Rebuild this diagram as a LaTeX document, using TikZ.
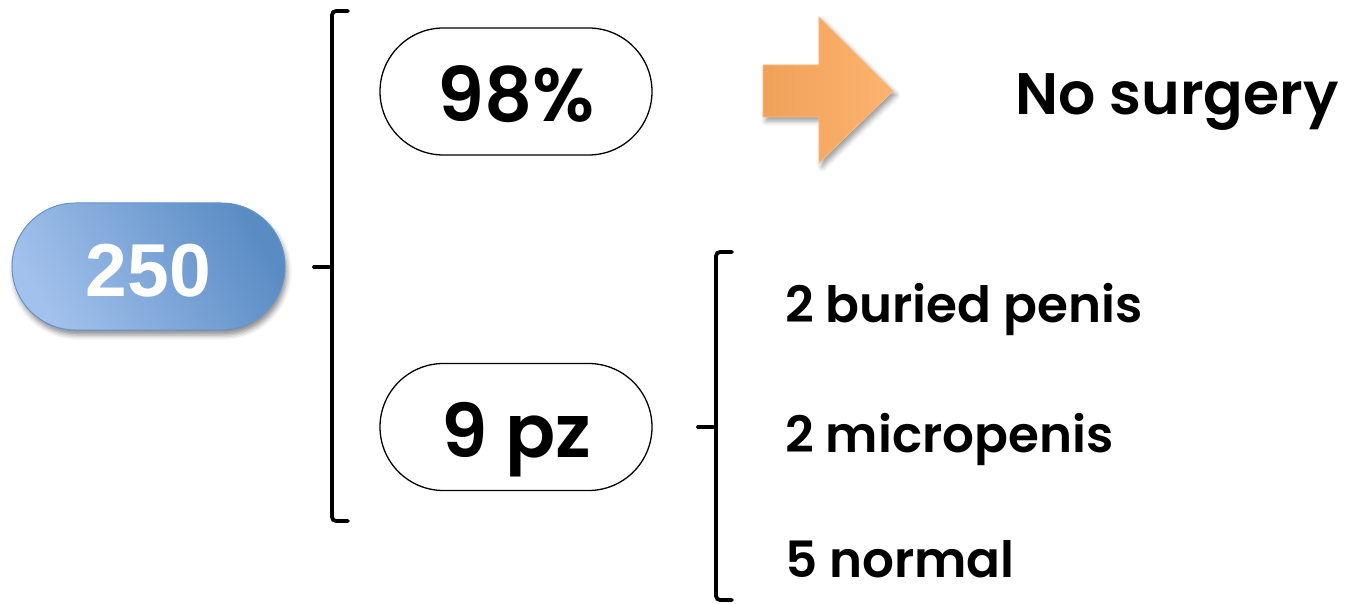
\documentclass[tikz,border=0pt]{standalone}
\usepackage{fontspec}
\setmainfont{Poppins}[BoldFont={Poppins SemiBold}]
\newfontfamily\numfont{Liberation Sans}
\usetikzlibrary{shapes.misc,shadows.blur}
\definecolor{blueL}{HTML}{A2C1EC}
\definecolor{blueD}{HTML}{5A8CC4}
\definecolor{blueB}{HTML}{6394CB}
\definecolor{orL}{HTML}{EFA159}
\definecolor{orD}{HTML}{FDB470}
\begin{document}
\begin{tikzpicture}[x=1pt,y=-1pt,
  pillbox/.style={rounded rectangle, inner sep=0pt, minimum width=272pt, minimum height=127pt, draw=black, line width=1.3pt,
    text height=61pt, text depth=0pt, font=\bfseries\fontsize{75}{75}\selectfont},
  bluepill/.style={rounded rectangle, inner sep=0pt, minimum width=273pt, minimum height=127pt, draw=blueB, line width=1pt,
    left color=blueD, right color=blueL, shading angle=-60, text=white, text height=61pt, text depth=0pt,
    font=\numfont\bfseries\fontsize{75}{75}\selectfont,
    blur shadow={shadow xshift=2pt, shadow yshift=-5pt, shadow blur radius=5pt, shadow opacity=45}},
  brk/.style={line width=3.8pt, rounded corners=4pt, line cap=round},
  lbl/.style={anchor=base west, inner sep=0pt, font=\bfseries\fontsize{50}{50}\selectfont},
  arr/.style={left color=orL, right color=orD, draw=orD!90!white, line width=0.8pt,
    blur shadow={shadow xshift=3pt, shadow yshift=-4pt, shadow blur radius=5pt, shadow opacity=40}}
]
\useasboundingbox (0,0) rectangle (1345,604);

\node[bluepill] (n250) at (148.5,266.5) {250};
\node[pillbox] (p98) at (516,91.5) {98\%};
\node[pillbox, font=\bfseries\fontsize{74}{74}\selectfont] (p9) at (516,427) {9 pz};

% arrow
\path[arr] (763,65) -- (819,65) -- (819,17) -- (893,91) -- (819,163) -- (819,117) -- (763,117) -- cycle;

\node[lbl, font=\bfseries\fontsize{58.5}{58.5}\selectfont] (nosurg) at (1015,115) {No surgery};
\node[lbl] (b1) at (785,323) {2 buried penis};
\node[lbl] (b2) at (785,452) {2 micropenis};
\node[lbl] (b3) at (785,577) {5 normal};

% brackets
\coordinate (t1) at (314,267);
\draw[brk] (348,11) -- (332,11) -- (332,267) -- (332,521) -- (348,521);
\draw[brk, rounded corners=0pt] (t1) -- (329,267);
\coordinate (t2) at (698,427);
\draw[brk] (732,252) -- (716,252) -- (716,427) -- (716,600) -- (732,600);
\draw[brk, rounded corners=0pt] (t2) -- (713,427);
\end{tikzpicture}
\end{document}
